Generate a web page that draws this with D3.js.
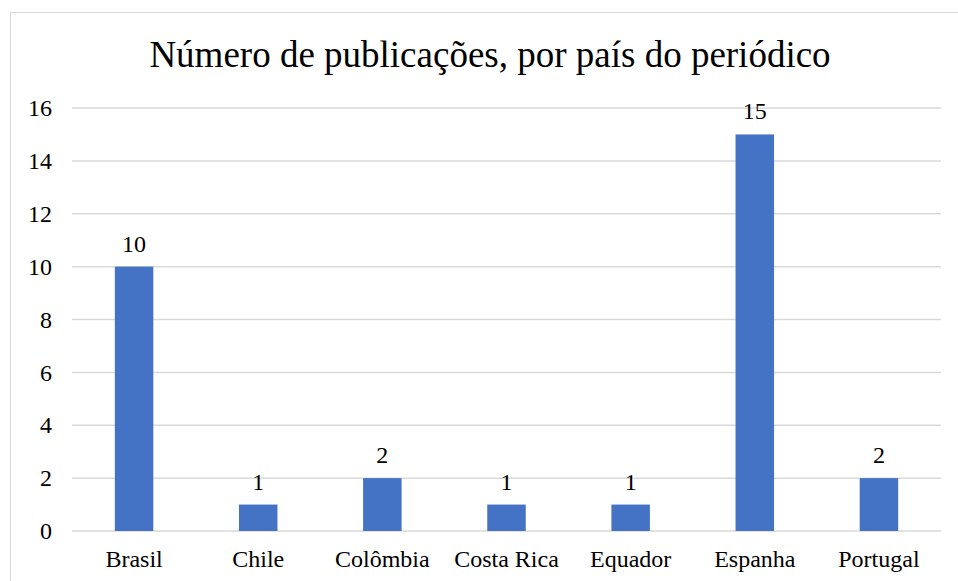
<!DOCTYPE html>
<html>
<head>
<meta charset="utf-8">
<script src="https://cdn.jsdelivr.net/npm/d3@7"></script>
<style>
  body { margin: 0; background: #fff; }
</style>
</head>
<body>
<svg width="958" height="581"></svg>
<script>
var paises = ["Brasil", "Chile", "Colômbia", "Costa Rica", "Equador", "Espanha", "Portugal"];
var publicacoes = [10, 1, 2, 1, 1, 15, 2];
var yTicks = [0, 2, 4, 6, 8, 10, 12, 14, 16];
var titulo = "Número de publicações, por país do periódico";

var serif = "'Liberation Serif', 'Times New Roman', serif";
var svg = d3.select("svg");

// chart frame (cut off on the right and bottom)
svg.append("rect")
    .attr("x", 10.5).attr("y", 12.5)
    .attr("width", 960).attr("height", 600)
    .attr("fill", "#fff")
    .attr("stroke", "#d9d9d9");

var plotL = 72, plotR = 941, plotT = 108, plotB = 531;

var x = d3.scaleBand().domain(paises).range([plotL, plotR]).paddingInner(0.69).paddingOuter(0.345);
var y = d3.scaleLinear().domain([0, 16]).range([plotB, plotT]);

svg.append("text")
    .attr("x", 490).attr("y", 67)
    .attr("text-anchor", "middle")
    .style("font-family", serif)
    .style("font-size", "37px")
    .text(titulo);

// gridlines
svg.append("g").selectAll("line")
    .data(yTicks)
    .enter().append("line")
      .attr("x1", plotL).attr("x2", plotR)
      .attr("y1", function(d) { return y(d); })
      .attr("y2", function(d) { return y(d); })
      .attr("stroke", "#d9d9d9")
      .attr("stroke-width", 1.5);

// y axis labels
var yAxis = d3.axisLeft(y).tickValues(yTicks).tickSize(0).tickPadding(20);
var ga = svg.append("g").attr("transform", "translate(" + plotL + ",0)").call(yAxis)
    .attr("font-family", serif).attr("font-size", 24);
ga.select(".domain").remove();
ga.selectAll("text")
    .style("font-family", serif)
    .style("font-size", "24px")
    .attr("fill", "#000");

// bars
svg.append("g").selectAll("rect")
    .data(publicacoes)
    .enter().append("rect")
      .attr("x", function(d, i) { return x(paises[i]); })
      .attr("y", function(d) { return y(d); })
      .attr("width", x.bandwidth())
      .attr("height", function(d) { return y(0) - y(d); })
      .attr("fill", "#4472c4");

// value labels
svg.append("g").selectAll("text")
    .data(publicacoes)
    .enter().append("text")
      .attr("x", function(d, i) { return x(paises[i]) + x.bandwidth() / 2; })
      .attr("y", function(d) { return y(d) - 15; })
      .attr("text-anchor", "middle")
      .style("font-family", serif)
      .style("font-size", "24px")
      .text(function(d) { return d; });

// category labels
var xAxis = d3.axisBottom(x).tickSize(0).tickPadding(19);
var gx = svg.append("g").attr("transform", "translate(0," + plotB + ")").call(xAxis)
    .attr("font-family", serif).attr("font-size", 24);
gx.select(".domain").remove();
gx.selectAll("text")
    .style("font-family", serif)
    .style("font-size", "24px")
    .attr("fill", "#000");
</script>
</body>
</html>
